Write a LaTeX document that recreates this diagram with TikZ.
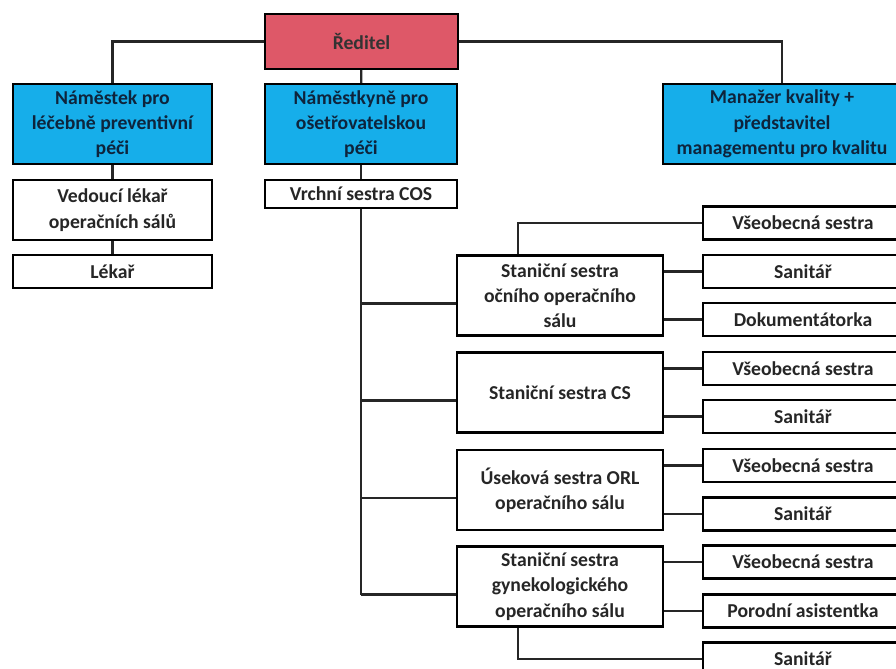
\documentclass[tikz,border=0pt]{standalone}
\usepackage{fontspec}
\setmainfont{Carlito}
\usepackage{tikz}
\usetikzlibrary{calc,positioning}

\definecolor{redbox}{RGB}{222,88,104}
\definecolor{bluebox}{RGB}{22,174,234}
\definecolor{navytext}{RGB}{14,36,60}

\begin{document}
\begin{tikzpicture}[x=0.025cm,y=-0.025cm,
    box/.style={draw,line width=1.6pt,fill=white,align=center,inner sep=0pt,
      font=\fontsize{14}{18}\selectfont\bfseries,text=black!85},
    head/.style={box,fill=bluebox,text=navytext,minimum height=2cm},
    conn/.style={line width=1.6pt,black!85}]
    \useasboundingbox (0,0) rectangle (896,669);
    \clip (0,0) rectangle (896,669);

    % top levels
    \node[box,fill=redbox,text=black!80,minimum width=4.825cm,minimum height=1.375cm] (reditel) at (361.5,41.5) {Ředitel};
    \node[head,minimum width=4.975cm] (namlecba) at (112.5,124) {Náměstek pro\\léčebně preventivní\\péči};
    \node[head,minimum width=4.8cm] (namosetr) at (361,124) {Náměstkyně pro\\ošetřovatelskou\\péči};
    \node[head,minimum width=5.95cm] (manazer) at (782,124) {Manažer kvality +\\představitel\\managementu pro kvalitu};

    % lekarska vetev
    \node[box,minimum width=4.975cm,minimum height=1.5cm] (vedouci) at (112.5,210) {Vedoucí lékař\\operačních sálů};
    \node[box,minimum width=4.975cm,minimum height=0.825cm] (lekar) at (112.5,271.5) {Lékař};

    % sesterska vetev
    \node[box,minimum width=4.8cm,minimum height=0.7cm] (vrchni) at (361,194) {Vrchní sestra COS};
    \node[box,minimum width=5.15cm,minimum height=2cm] (ocni) at (560,295.5) {Staniční sestra\\očního operačního\\sálu};
    \node[box,minimum width=5.15cm,minimum height=2cm] (cs) at (560,392.5) {Staniční sestra CS};
    \node[box,minimum width=5.15cm,minimum height=2cm] (orl) at (560,490) {Úseková sestra ORL\\operačního sálu};
    \node[box,minimum width=5.15cm,minimum height=2cm] (gyn) at (560,586.5) {Staniční sestra\\gynekologického\\operačního sálu};

    \node[box,minimum width=5cm,minimum height=0.825cm] (vs1) at (803,223) {Všeobecná sestra};
    \node[box,minimum width=5cm,minimum height=0.825cm] (san1) at (803,271.5) {Sanitář};
    \node[box,minimum width=5cm,minimum height=0.825cm] (dok) at (803,319.5) {Dokumentátorka};
    \node[box,minimum width=5cm,minimum height=0.825cm] (vs2) at (803,368.5) {Všeobecná sestra};
    \node[box,minimum width=5cm,minimum height=0.825cm] (san2) at (803,416.5) {Sanitář};
    \node[box,minimum width=5cm,minimum height=0.825cm] (vs3) at (803,465.5) {Všeobecná sestra};
    \node[box,minimum width=5cm,minimum height=0.825cm] (san3) at (803,514) {Sanitář};
    \node[box,minimum width=5cm,minimum height=0.825cm] (vs4) at (803,562) {Všeobecná sestra};
    \node[box,minimum width=5cm,minimum height=0.825cm] (porod) at (803,611) {Porodní asistentka};
    \node[box,minimum width=5cm,minimum height=0.825cm] (san4) at (803,659) {Sanitář};

    \draw[conn] (reditel.west) -| (namlecba.north);
    \draw[conn] (reditel.east) -| (manazer.north);
    \draw[conn] (reditel) -- (namosetr);
    \draw[conn] (namosetr) -- (vrchni);
    \draw[conn] (namlecba) -- (vedouci);
    \draw[conn] (vedouci) -- (lekar);

    \draw[conn] (vrchni.south) -- ($(vrchni.south |- gyn.west)+(0,8)$);
    \foreach \n in {ocni,cs,orl,gyn}
      \draw[conn] ($(vrchni.south |- \n.west)+(0,8)$) -- ($(\n.west)+(0,8)$);

    \draw[conn] ($(ocni.north)+(-42,0)$) |- (vs1.west);
    \draw[conn] (ocni.east |- san1.west) -- (san1.west);
    \draw[conn] (ocni.east |- dok.west) -- (dok.west);
    \draw[conn] (cs.east |- vs2.west) -- (vs2.west);
    \draw[conn] (cs.east |- san2.west) -- (san2.west);
    \draw[conn] (orl.east |- vs3.west) -- (vs3.west);
    \draw[conn] (orl.east |- san3.west) -- (san3.west);
    \draw[conn] (gyn.east |- vs4.west) -- (vs4.west);
    \draw[conn] (gyn.east |- porod.west) -- (porod.west);
    \draw[conn] ($(gyn.south)+(-42,0)$) |- (san4.west);
\end{tikzpicture}
\end{document}
